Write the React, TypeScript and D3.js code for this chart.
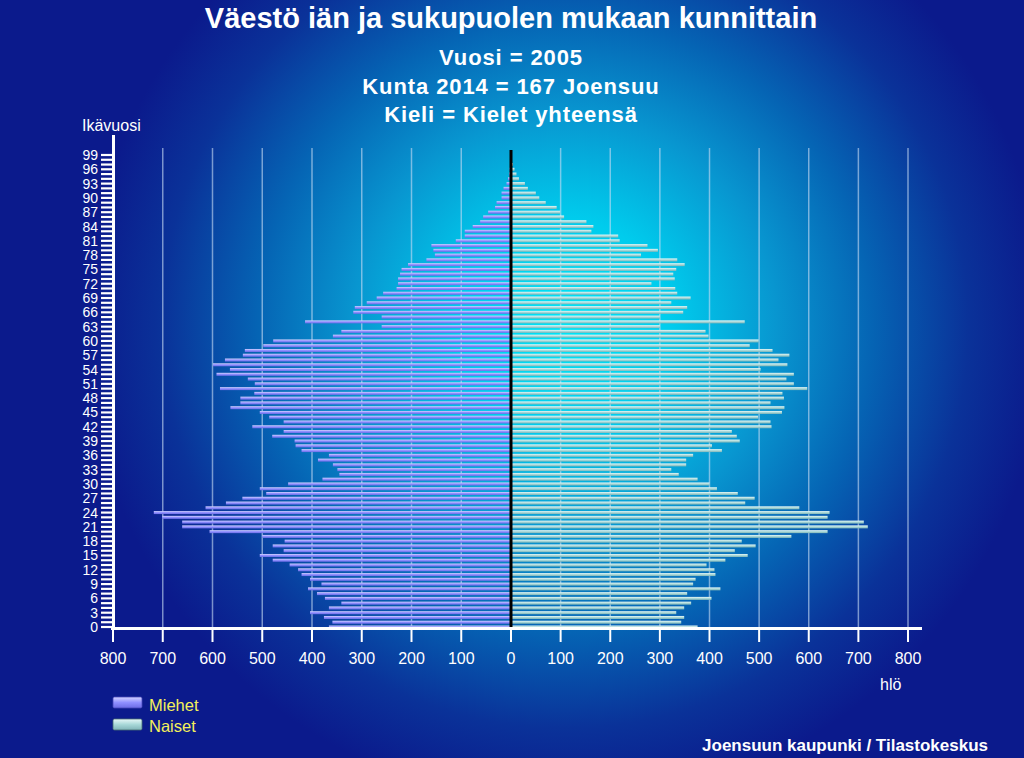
import React from "react";
import * as d3 from "d3";

const ages: number[] = d3.range(0, 100);
const men: number[] = [
  366, 359, 376, 404, 366, 341, 374, 390, 408, 381,
  404, 421, 428, 445, 479, 505, 457, 479, 455, 500,
  606, 661, 661, 701, 718, 614, 573, 540, 492, 505,
  448, 379, 345, 349, 358, 388, 366, 421, 433, 435,
  480, 457, 520, 457, 486, 505, 564, 544, 544, 516,
  585, 515, 529, 592, 565, 599, 575, 539, 535, 498,
  478, 358, 341, 260, 414, 260, 317, 314, 290, 270,
  257, 230, 227, 227, 223, 220, 207, 170, 153, 156,
  160, 111, 93, 93, 77, 62, 56, 46, 32, 29,
  19, 19, 15, 9, 6, 4, 3, 1, 1, 0,
];
const women: number[] = [
  376, 343, 349, 333, 349, 363, 404, 355, 422, 367,
  372, 412, 410, 394, 432, 477, 451, 493, 465, 565,
  638, 719, 711, 638, 642, 581, 472, 491, 457, 415,
  400, 376, 338, 323, 353, 353, 367, 425, 405, 461,
  455, 445, 525, 523, 498, 546, 551, 523, 550, 547,
  597, 570, 555, 570, 503, 557, 539, 561, 527, 481,
  499, 398, 392, 300, 471, 300, 347, 355, 323, 362,
  335, 331, 283, 330, 327, 333, 350, 335, 262, 296,
  275, 219, 216, 162, 166, 152, 107, 99, 92, 70,
  57, 50, 34, 28, 16, 11, 7, 4, 2, 1,
];
const xTicks: number[] = [0, 100, 200, 300, 400, 500, 600, 700, 800];
const yLabelAges: number[] = d3.range(0, 100, 3);
const titleLines: string[] = [
  "Vuosi = 2005",
  "Kunta 2014 = 167 Joensuu",
  "Kieli = Kielet yhteensä",
];
const legendItems: { label: string; key: string }[] = [
  { label: "Miehet", key: "men" },
  { label: "Naiset", key: "women" },
];

const W = 1024;
const H = 758;
const FONT = "'Liberation Sans', Arial, sans-serif";

export default function App() {
  const zeroX = 511;
  const xMen = d3.scaleLinear().domain([0, 800]).range([zeroX, 113]);
  const xWomen = d3.scaleLinear().domain([0, 800]).range([zeroX, 908]);
  const y = d3.scaleLinear().domain([0, 99]).range([627, 155]);
  const barH = 3;
  const axisY = 628.5;
  const axisX = 113.5;

  return (
    <svg
      width={W}
      height={H}
      style={{ position: "absolute", left: 0, top: 0, display: "block" }}
      fontFamily={FONT}
    >
      <defs>
        <radialGradient id="bg" gradientUnits="userSpaceOnUse" cx={565} cy={325} r={480}>
          <stop offset="0" stopColor="#00e6f6" />
          <stop offset="0.22" stopColor="#00cced" />
          <stop offset="0.44" stopColor="#0896d0" />
          <stop offset="0.64" stopColor="#0564b4" />
          <stop offset="0.84" stopColor="#0a3299" />
          <stop offset="1" stopColor="#0b1a8c" />
        </radialGradient>
        <linearGradient id="menG" x1="0" y1="0" x2="0" y2="1">
          <stop offset="0" stopColor="#d4d4ff" />
          <stop offset="0.5" stopColor="#9090ff" />
          <stop offset="1" stopColor="#6c6ce6" />
        </linearGradient>
        <linearGradient id="womenG" x1="0" y1="0" x2="0" y2="1">
          <stop offset="0" stopColor="#e8f8f8" />
          <stop offset="0.5" stopColor="#a8d8d8" />
          <stop offset="1" stopColor="#80b4b8" />
        </linearGradient>
      </defs>
      <rect x={0} y={0} width={W} height={H} fill="#0b1a8c" />
      <rect x={0} y={0} width={W} height={H} fill="url(#bg)" />

      {/* Titles */}
      <text x={511} y={28} textAnchor="middle" fill="#fff" fontWeight="bold" fontSize={29}>
        Väestö iän ja sukupuolen mukaan kunnittain
      </text>
      {titleLines.map((t, i) => (
        <text
          key={t}
          x={511}
          y={65 + i * 28.5}
          textAnchor="middle"
          fill="#fff"
          fontWeight="bold"
          fontSize={22}
          letterSpacing={0.9}
        >
          {t}
        </text>
      ))}

      {/* Grid */}
      {xTicks.filter((v) => v > 0).map((v) => (
        <g key={"g" + v}>
          {v < 800 && (
            <line x1={xMen(v)} x2={xMen(v)} y1={148} y2={628} stroke="#c8dcf4" strokeOpacity={0.6} strokeWidth={1.5} />
          )}
          <line x1={xWomen(v)} x2={xWomen(v)} y1={148} y2={628} stroke="#c8dcf4" strokeOpacity={0.6} strokeWidth={1.5} />
        </g>
      ))}

      {/* Bars */}
      {ages.map((a) => (
        <rect
          key={"m" + a}
          x={xMen(men[a])}
          y={y(a) - barH / 2}
          width={zeroX - xMen(men[a])}
          height={barH}
          fill="url(#menG)"
        />
      ))}
      {ages.map((a) => (
        <rect
          key={"w" + a}
          x={zeroX}
          y={y(a) - barH / 2}
          width={xWomen(women[a]) - zeroX}
          height={barH}
          fill="url(#womenG)"
        />
      ))}
      <line x1={zeroX} x2={zeroX} y1={150} y2={628} stroke="#000" strokeWidth={3} />

      {/* Y axis */}
      <line x1={axisX} x2={axisX} y1={135} y2={630} stroke="#fff" strokeWidth={3} />
      {ages.map((a) => (
        <line key={"t" + a} x1={101} x2={axisX} y1={y(a)} y2={y(a)} stroke="#fff" strokeWidth={2.2} />
      ))}
      {yLabelAges.map((a) => (
        <text key={"l" + a} x={98} y={y(a) + 5} textAnchor="end" fill="#fff" fontSize={14}>
          {a}
        </text>
      ))}
      <text x={82} y={131} fill="#fff" fontSize={16}>
        Ikävuosi
      </text>

      {/* X axis */}
      <line x1={111} x2={922} y1={axisY} y2={axisY} stroke="#fff" strokeWidth={3} />
      {xTicks.map((v) => (
        <g key={"x" + v}>
          <line x1={xMen(v)} x2={xMen(v)} y1={axisY} y2={642} stroke="#fff" strokeWidth={2} />
          <line x1={xWomen(v)} x2={xWomen(v)} y1={axisY} y2={642} stroke="#fff" strokeWidth={2} />
          {v > 0 && (
            <text x={xMen(v)} y={664} textAnchor="middle" fill="#fff" fontSize={16}>
              {v}
            </text>
          )}
          <text x={xWomen(v)} y={664} textAnchor="middle" fill="#fff" fontSize={16}>
            {v}
          </text>
        </g>
      ))}
      <text x={880} y={690} fill="#fff" fontSize={16}>
        hlö
      </text>

      {/* Legend */}
      {legendItems.map((it, i) => (
        <g key={it.key}>
          <rect
            x={113}
            y={697 + i * 22}
            width={29}
            height={11}
            rx={1.5}
            fill={it.key === "men" ? "url(#menG)" : "url(#womenG)"}
            stroke={it.key === "men" ? "#4848b8" : "#486c70"}
            strokeWidth={0.8}
          />
          <text x={149} y={710.5 + i * 21} fill="#f4f05a" fontSize={16.5}>
            {it.label}
          </text>
        </g>
      ))}

      <text x={988} y={751} textAnchor="end" fill="#fff" fontWeight="bold" fontSize={17}>
        Joensuun kaupunki / Tilastokeskus
      </text>
    </svg>
  );
}
